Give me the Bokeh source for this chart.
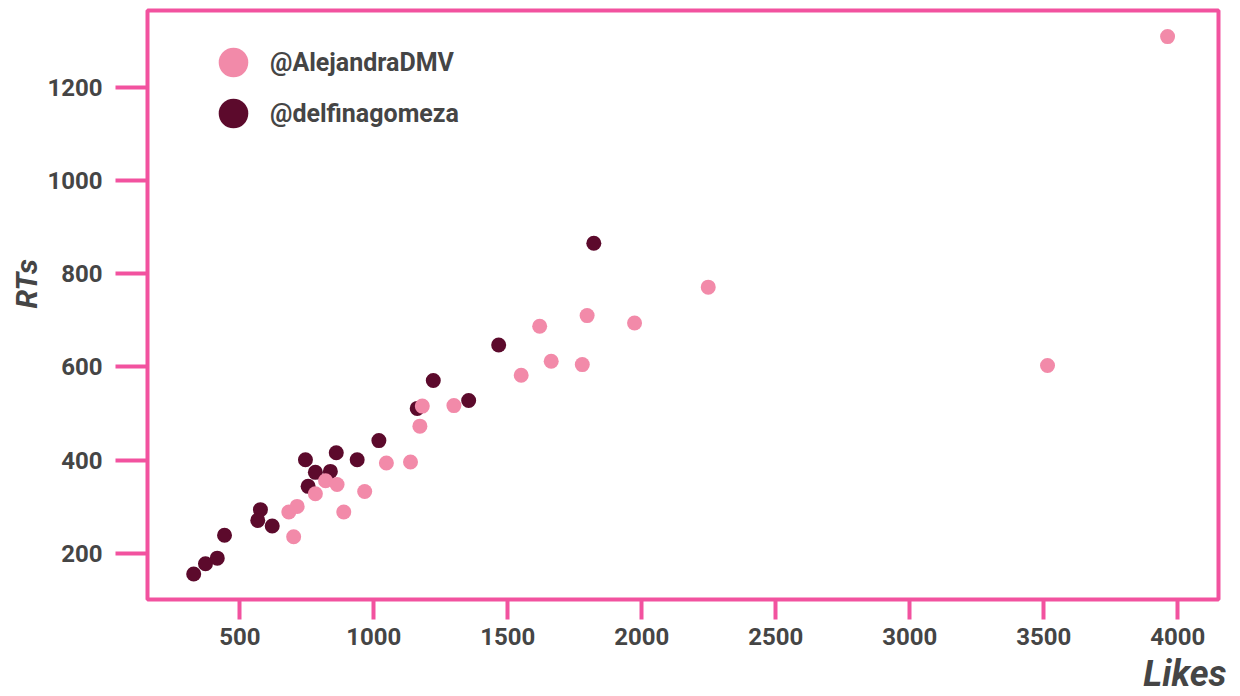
from bokeh.plotting import figure
from bokeh.models import Range1d, FixedTicker, Legend, LegendItem, Title, ColumnDataSource
from bokeh.embed import file_html
from bokeh.resources import INLINE

# ---- data ----
alejandra_likes = [701, 683, 714, 782, 820, 863, 888, 966, 1047, 1137, 1172, 1181, 1299,
                   1550, 1662, 1778, 1619, 1796, 1973, 2248, 3514, 3962]
alejandra_rts = [236, 289, 301, 328, 356, 348, 289, 333, 394, 396, 473, 516, 517,
                 582, 612, 605, 687, 710, 694, 771, 603, 1308]
delfina_likes = [328, 372, 416, 443, 577, 567, 621, 745, 755, 782, 838, 860, 938,
                 1019, 1162, 1222, 1354, 1466, 1821]
delfina_rts = [156, 178, 190, 239, 294, 271, 259, 401, 344, 374, 376, 416, 401,
               442, 511, 571, 528, 647, 865]
x_ticks = [500, 1000, 1500, 2000, 2500, 3000, 3500, 4000]
y_ticks = [200, 400, 600, 800, 1000, 1200]
series_names = ["@AlejandraDMV", "@delfinagomeza"]
x_title = "Likes"
y_title = "RTs"

PINK_LINE = "#F2529F"
PINK_PT = "#F28AA9"
DARK_PT = "#5C0A2C"
TEXT = "#454545"
FONT = "Roboto"

p = figure(frame_width=1071, frame_height=589,
           min_border_left=147, min_border_right=22, min_border_top=10, min_border_bottom=97,
           x_range=Range1d(155.6, 4152), y_range=Range1d(101.4, 1364),
           output_backend="svg", toolbar_location=None, tools="")

p.background_fill_color = "white"
p.border_fill_color = "white"
p.outline_line_color = PINK_LINE
p.outline_line_width = 4
p.xgrid.visible = False
p.ygrid.visible = False

for ax, ticks, tout, stand in ((p.xaxis, x_ticks, 20, 8), (p.yaxis, y_ticks, 32, 13)):
    ax.ticker = FixedTicker(ticks=ticks)
    ax.axis_line_color = None
    ax.major_tick_line_color = PINK_LINE
    ax.major_tick_line_width = 4
    ax.major_tick_out = tout
    ax.major_tick_in = 0
    ax.minor_tick_line_color = None
    ax.major_label_text_font = FONT
    ax.major_label_text_font_style = "bold"
    ax.major_label_text_font_size = "24px"
    ax.major_label_text_color = TEXT
    ax.major_label_standoff = stand

src_d = ColumnDataSource(dict(x=delfina_likes, y=delfina_rts))
src_a = ColumnDataSource(dict(x=alejandra_likes, y=alejandra_rts))
r_d = p.scatter("x", "y", source=src_d, size=15, marker="circle",
                fill_color=DARK_PT, line_color=None)
r_a = p.scatter("x", "y", source=src_a, size=15, marker="circle",
                fill_color=PINK_PT, line_color=None)

def make_legend(label, rend, loc):
    lg = Legend(items=[LegendItem(label=label, renderers=[rend])], location=loc,
                glyph_width=74, glyph_height=80, padding=0, margin=0, label_standoff=0,
                border_line_color=None, background_fill_alpha=0,
                label_text_font=FONT, label_text_font_style="bold",
                label_text_font_size="25px", label_text_color=TEXT)
    p.add_layout(lg)

make_legend(series_names[0], r_a, (49, 497))
make_legend(series_names[1], r_d, (49, 446))

p.add_layout(Title(text=x_title, align="right", offset=-8, standoff=6,
                   text_font=FONT, text_font_style="bold italic", text_font_size="36px",
                   text_color=TEXT), "below")
p.add_layout(Title(text=y_title, align="left", offset=291, standoff=2,
                   text_font=FONT, text_font_style="bold italic", text_font_size="30px",
                   text_color=TEXT), "left")

open("out.html", "w").write(file_html(p, INLINE))
